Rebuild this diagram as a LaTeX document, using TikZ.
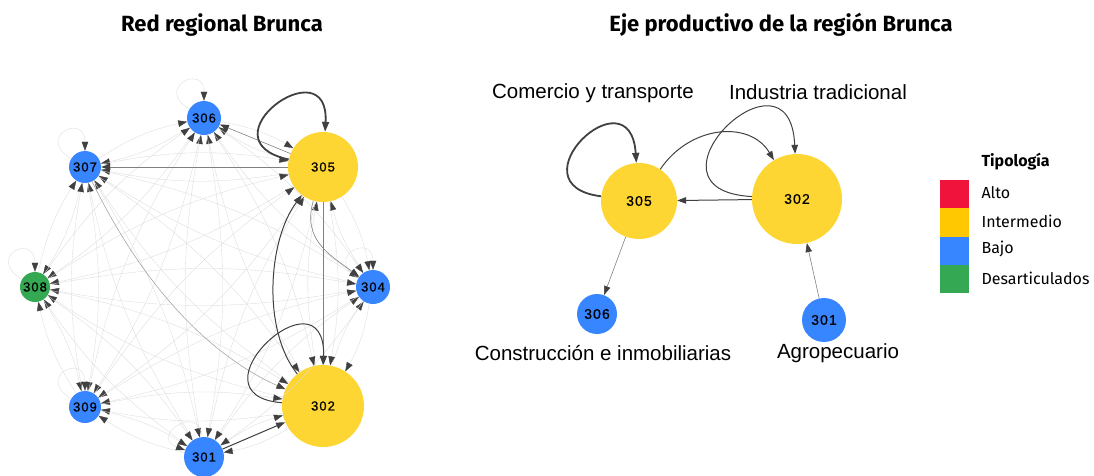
\documentclass[tikz,border=0pt]{standalone}
\usepackage{fontspec}
\setmainfont{Liberation Sans}
\newfontfamily\plexfont{Fira Sans}
\newfontfamily\numfont[LetterSpace=8,FakeBold=0.6]{Liberation Sans}
\usetikzlibrary{arrows.meta}

\definecolor{tipoAlto}{RGB}{240,20,60}
\definecolor{tipoMedio}{RGB}{253,214,51}
\definecolor{tipoLegMedio}{RGB}{255,200,0}
\definecolor{tipoBajo}{RGB}{56,134,255}
\definecolor{tipoDes}{RGB}{52,168,83}

\tikzset{
  region/.style={circle, inner sep=0pt, font=\numfont\fontsize{13}{14}\selectfont},
  medio/.style={region, fill=tipoMedio},
  bajo/.style={region, fill=tipoBajo},
  des/.style={region, fill=tipoDes},
  tip/.style={-{Triangle[length=9pt,width=6.5pt,color=black!75]}},
  mesh/.style={tip, draw=black!14, line width=0.35pt},
  medline/.style={tip, draw=black!50, line width=0.6pt},
  darkline/.style={tip, draw=black!75, line width=1pt},
  thickline/.style={-{Triangle[length=10pt,width=7pt,color=black!75]}, draw=black!75, line width=1.8pt},
  sector/.style={font=\fontsize{20.5}{24}\selectfont},
  title/.style={font=\plexfont\bfseries\fontsize{22}{26}\selectfont},
  legtext/.style={font=\plexfont\fontsize{16}{18}\selectfont, anchor=west}
}

\begin{document}
\begin{tikzpicture}[x=1pt, y=-1pt]
\useasboundingbox (0,0) rectangle (1094,476);

\node [title] (t1) at (222,25) {Red regional Brunca};
\node [title] (t2) at (781,25) {Eje productivo de la región Brunca};

\node [bajo, minimum size=34pt] (l306) at (204,118) {306};
\node [medio, minimum size=70pt] (l305) at (323,167) {305};
\node [bajo, minimum size=32pt] (l307) at (85,167) {307};
\node [des, minimum size=30pt] (l308) at (35,287) {308};
\node [bajo, minimum size=34pt] (l304) at (373,287) {304};
\node [bajo, minimum size=32pt] (l309) at (85,407) {309};
\node [bajo, minimum size=40pt] (l301) at (204,457) {301};
\node [medio, minimum size=82pt] (l302) at (323,406) {302};

\foreach \a in {301,302,304,305,306,307,308,309}
\foreach \b in {301,302,304,305,306,307,308,309}
{
\ifnum\a=\b\else
\draw [mesh] (l\a) to [bend left=10] (l\b);
\fi
}
\foreach \n in {306,307,308,309,304}
{
\draw [mesh] (l\n) .. controls +(-50,-30) and +(0,-55) .. (l\n);
}
\draw [mesh] (l301) .. controls +(-5,-55) and +(-55,-20) .. (l301);

\draw [medline] (l305) -- (l306);
\draw [medline] (l305) -- (l307);
\draw [medline] (l305) -- (l302);
\draw [medline] (l305) .. controls (302,240) and (330,255) .. (l304);
\draw [medline, draw=black!35] (l307) .. controls (150,300) and (220,360) .. (l302);
\draw [darkline] (l301) -- (l302);
\draw [darkline] (l302) .. controls (262,330) and (268,240) .. (l305);
\draw [darkline] (l302) .. controls (185,395) and (325,265) .. (l302);
\draw [thickline] (l305) .. controls (200,140) and (330,45) .. (l305);

\node [medio, minimum size=76pt, font=\numfont\fontsize{14}{15}\selectfont] (r305) at (639,201) {305};
\node [medio, minimum size=90pt, font=\numfont\fontsize{14}{15}\selectfont] (r302) at (797,199) {302};
\node [bajo, minimum size=40pt, font=\numfont\fontsize{14}{15}\selectfont] (r306) at (597,314) {306};
\node [bajo, minimum size=44pt, font=\numfont\fontsize{14}{15}\selectfont] (r301) at (824,320) {301};

\node [sector] (s305) at (593,93) {Comercio y transporte};
\node [sector] (s302) at (818,92) {Industria tradicional};
\node [sector] (s306) at (603,353) {Construcción e inmobiliarias};
\node [sector] (s301) at (838,353) {Agropecuario};

\draw [thickline] (r305) .. controls (510,185) and (630,70) .. (r305);
\draw [darkline] (r302) .. controls (630,190) and (790,35) .. (r302);
\draw [darkline] (r305) .. controls (690,125) and (750,120) .. (r302);
\draw [darkline] (r302) -- (r305);
\draw [medline] (r305) -- (r306);
\draw [medline] (r301) -- (r302);

\node [font=\plexfont\bfseries\fontsize{16}{18}\selectfont, anchor=west] (legtit) at (978,162) {Tipología};
\fill [tipoAlto] (940,180) rectangle (969,208);
\fill [tipoLegMedio] (940,208) rectangle (969,237);
\fill [tipoBajo] (940,237) rectangle (969,265);
\fill [tipoDes] (940,265) rectangle (969,293);
\node [legtext] (leg1) at (978,193) {Alto};
\node [legtext] (leg2) at (978,221) {Intermedio};
\node [legtext] (leg3) at (978,249) {Bajo};
\node [legtext] (leg4) at (978,278) {Desarticulados};
\end{tikzpicture}
\end{document}
